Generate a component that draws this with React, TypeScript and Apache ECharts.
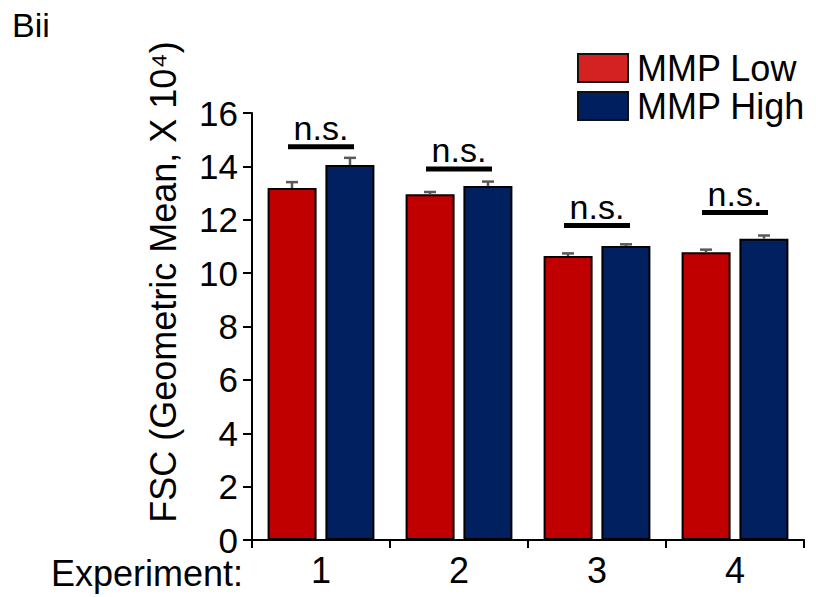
import React, { useEffect, useRef } from "react";
import * as echarts from "echarts";

const experiments = ["1", "2", "3", "4"];
const mmpLow = [13.19, 12.96, 10.64, 10.78];
const mmpLowErr = [0.22, 0.08, 0.1, 0.1];
const mmpHigh = [14.05, 13.26, 11.02, 11.29];
const mmpHighErr = [0.27, 0.17, 0.06, 0.12];
const sigLevel = [14.74, 13.9, 11.78, 12.27];
const sigLabel = ["n.s.", "n.s.", "n.s.", "n.s."];
const yTicks = [0, 2, 4, 6, 8, 10, 12, 14, 16];

const FONT = "'Liberation Sans', Arial, Helvetica, sans-serif";
const RED = "#c00000";
const BLUE = "#002060";

export default function App() {
  const ref = useRef<HTMLDivElement>(null);
  useEffect(() => {
    if (!ref.current) return;
    const chart = echarts.init(ref.current, null, { renderer: "svg" });
    const barW = 49;
    const offset = 29;

    const errSeries = (vals: number[], errs: number[], dir: number, name: string) => ({
      type: "custom",
      name,
      z: 5,
      silent: true,
      data: vals.map((v, i) => [i, v, v + errs[i]]),
      renderItem: (params: any, api: any) => {
        const i = api.value(0);
        const p0 = api.coord([i, api.value(1)]);
        const p1 = api.coord([i, api.value(2)]);
        const x = p0[0] + dir * offset;
        return {
          type: "group",
          children: [
            { type: "line", shape: { x1: x, y1: p0[1], x2: x, y2: p1[1] }, style: { stroke: "#595959", lineWidth: 2.5 } },
            { type: "line", shape: { x1: x - 6, y1: p1[1], x2: x + 6, y2: p1[1] }, style: { stroke: "#595959", lineWidth: 2.5 } },
          ],
        };
      },
    });

    chart.setOption({
      animation: false,
      textStyle: { fontFamily: FONT },
      grid: { left: 252, right: 12, top: 113, bottom: 57, containLabel: false },
      legend: {
        orient: "vertical",
        left: 572,
        top: 45,
        itemWidth: 50,
        itemHeight: 28,
        itemGap: 2,
        icon: "rect",
        selectedMode: false,
        textStyle: { fontSize: 36, color: "#000", fontFamily: FONT, padding: [0, 0, 0, 4] },
        data: [
          { name: "MMP Low", itemStyle: { color: "#d42121", borderColor: "#111", borderWidth: 2 } },
          { name: "MMP High", itemStyle: { color: "#001f5f", borderColor: "#111", borderWidth: 2 } },
        ],
      },
      xAxis: {
        type: "category",
        data: experiments,
        axisLine: { lineStyle: { color: "#000", width: 2 } },
        axisTick: { show: true, length: 8, lineStyle: { color: "#000", width: 2 } },
        axisLabel: { fontSize: 36, lineHeight: 30, color: "#000", margin: 15, fontFamily: FONT },
      },
      yAxis: {
        type: "value",
        min: 0,
        max: 16,
        interval: 2,
        splitLine: { show: false },
        axisLine: { show: true, lineStyle: { color: "#000", width: 2 } },
        axisTick: { show: true, length: 9, lineStyle: { color: "#000", width: 2 } },
        axisLabel: {
          fontSize: 35,
          lineHeight: 28,
          color: "#000",
          margin: 14,
          fontFamily: FONT,
          formatter: (v: number) => (yTicks.includes(v) ? String(v) : ""),
        },
      },
      graphic: [
        { type: "text", left: 12, top: 8, style: { text: "Bii", fontSize: 34, fill: "#000", fontFamily: FONT } },
        {
          type: "text",
          x: 243,
          y: 573,
          style: { text: "Experiment:", fontSize: 36, lineHeight: 28, fill: "#000", fontFamily: FONT, align: "right", verticalAlign: "middle" },
        },
        {
          type: "text",
          x: 163,
          y: 282,
          rotation: Math.PI / 2,
          style: {
            text: "FSC (Geometric Mean, X 10⁴)",
            fontSize: 36,
            fill: "#000",
            fontFamily: FONT,
            align: "center",
            verticalAlign: "middle",
          },
        },
      ],
      series: [
        {
          type: "bar",
          name: "MMP Low",
          data: mmpLow,
          barWidth: barW,
          barGap: "18%",
          itemStyle: { color: RED, borderColor: "#000", borderWidth: 2 },
        },
        {
          type: "bar",
          name: "MMP High",
          data: mmpHigh,
          barWidth: barW,
          barGap: "18%",
          itemStyle: { color: BLUE, borderColor: "#000", borderWidth: 2 },
        },
        errSeries(mmpLow, mmpLowErr, -1, "errLow"),
        errSeries(mmpHigh, mmpHighErr, 1, "errHigh"),
        {
          type: "custom",
          name: "sig",
          z: 6,
          silent: true,
          data: sigLevel.map((v, i) => [i, v]),
          renderItem: (params: any, api: any) => {
            const i = api.value(0);
            const p = api.coord([i, api.value(1)]);
            return {
              type: "group",
              children: [
                { type: "line", shape: { x1: p[0] - 33, y1: p[1], x2: p[0] + 33, y2: p[1] }, style: { stroke: "#000", lineWidth: 5 } },
                {
                  type: "text",
                  x: p[0],
                  y: p[1] - 19,
                  style: { text: sigLabel[i], fontSize: 34, fill: "#000", fontFamily: FONT, align: "center", verticalAlign: "middle" },
                },
              ],
            };
          },
        },
      ],
    });
    return () => chart.dispose();
  }, []);
  return <div ref={ref} style={{ width: 816, height: 597, position: "absolute", left: 0, top: 0 }} />;
}
